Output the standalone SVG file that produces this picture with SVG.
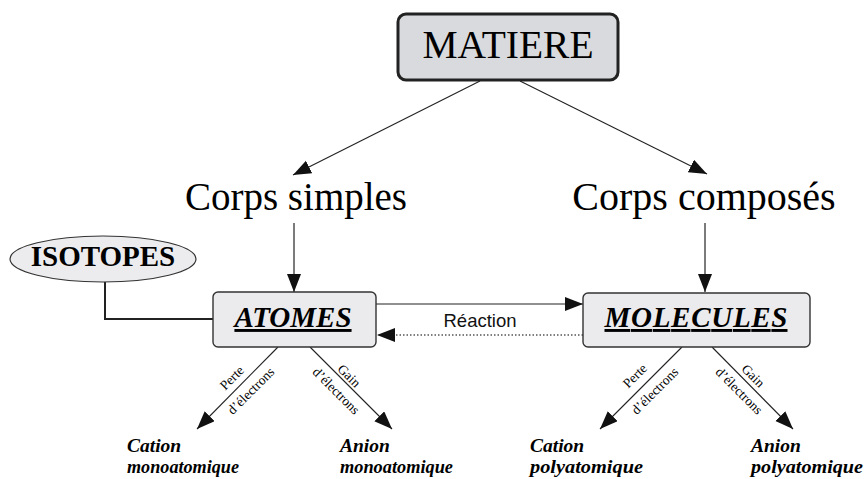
<svg xmlns="http://www.w3.org/2000/svg" width="866" height="479" viewBox="0 0 866 479">
<defs>
<marker id="ah" markerUnits="userSpaceOnUse" markerWidth="19" markerHeight="15" refX="18" refY="7" orient="auto">
<path d="M0,0 L18,7 L0,14 Z" fill="#111"/>
</marker>
<style>
.ln{stroke:#222;stroke-width:1.1;fill:none}
.lnv{stroke:#444;stroke-width:1.4;fill:none}
.box{fill:#ebebed;stroke:#333;stroke-width:1.4}
</style>
</defs>
<rect width="866" height="479" fill="#fff"/>

<g id="connectors">
<line class="ln" x1="480" y1="81" x2="293" y2="175" marker-end="url(#ah)"/>
<line class="ln" x1="520" y1="81" x2="707" y2="174" marker-end="url(#ah)"/>
<line class="lnv" x1="294" y1="223" x2="294" y2="292" marker-end="url(#ah)"/>
<line class="lnv" x1="705" y1="223" x2="705" y2="292" marker-end="url(#ah)"/>
<polyline points="105,282 105,319 213,319" fill="none" stroke="#222" stroke-width="2"/>
<line class="ln" x1="376" y1="304" x2="583" y2="304" marker-end="url(#ah)"/>
<line x1="583" y1="335" x2="377" y2="335" stroke="#555" stroke-width="1.3" stroke-dasharray="1.5,2" marker-end="url(#ah)"/>
<text x="480" y="327" text-anchor="middle" font-family="Liberation Sans, Arial, sans-serif" font-size="18.5" fill="#111">Réaction</text>
<line class="ln" x1="278" y1="347" x2="197" y2="429" marker-end="url(#ah)"/>
<line class="ln" x1="310" y1="347" x2="392" y2="429" marker-end="url(#ah)"/>
<line class="ln" x1="682" y1="347" x2="600" y2="429" marker-end="url(#ah)"/>
<line class="ln" x1="712" y1="347" x2="793" y2="429" marker-end="url(#ah)"/>
<g font-family="Liberation Serif, Times New Roman, serif" font-size="13.5" fill="#000" text-anchor="middle">
<text transform="translate(235,381) rotate(-45)">Perte</text>
<text transform="translate(254,394) rotate(-45)">d’électrons</text>
<text transform="translate(346,379) rotate(45)">Gain</text>
<text transform="translate(333,394) rotate(45)">d’électrons</text>
<text transform="translate(638,379) rotate(-45)">Perte</text>
<text transform="translate(658,394) rotate(-45)">d’électrons</text>
<text transform="translate(750,379) rotate(45)">Gain</text>
<text transform="translate(736,394) rotate(45)">d’électrons</text>
</g>
</g>

<g id="matiere">
<rect x="398" y="14" width="220" height="66" rx="8" fill="#d9dadd" stroke="#222" stroke-width="3"/>
<text x="508" y="58" text-anchor="middle" font-family="Liberation Serif, Times New Roman, serif" font-size="39.5">MATIERE</text>
</g>

<g id="corps-simples">
<text x="296" y="210" text-anchor="middle" font-family="Liberation Serif, Times New Roman, serif" font-size="39">Corps simples</text>
</g>

<g id="corps-composes">
<text x="704" y="210" text-anchor="middle" font-family="Liberation Serif, Times New Roman, serif" font-size="40">Corps composés</text>
</g>

<g id="isotopes">
<ellipse cx="103" cy="259" rx="93" ry="23" fill="#ececee" stroke="#333" stroke-width="1.2"/>
<text x="103" y="266" text-anchor="middle" font-family="Liberation Serif, Times New Roman, serif" font-size="29" font-weight="bold">ISOTOPES</text>
</g>

<g id="atomes">
<rect class="box" x="213" y="292" width="163" height="55" rx="5"/>
<text x="293" y="327" text-anchor="middle" font-family="Liberation Serif, Times New Roman, serif" font-weight="bold" font-style="italic" font-size="29" text-decoration="underline">ATOMES</text>
</g>

<g id="molecules">
<rect class="box" x="583" y="293" width="227" height="54" rx="5"/>
<text x="696" y="327" text-anchor="middle" font-family="Liberation Serif, Times New Roman, serif" font-weight="bold" font-style="italic" font-size="29" textLength="183" text-decoration="underline">MOLECULES</text>
</g>

<g font-family="Liberation Serif, Times New Roman, serif" font-weight="bold" font-style="italic" font-size="19.5" fill="#000">
<g id="cation-mono">
<text x="127" y="452">Cation</text>
<text x="127" y="473" textLength="112" lengthAdjust="spacingAndGlyphs">monoatomique</text>
</g>
<g id="anion-mono">
<text x="340" y="452">Anion</text>
<text x="340" y="473" textLength="113" lengthAdjust="spacingAndGlyphs">monoatomique</text>
</g>
<g id="cation-poly">
<text x="530" y="452">Cation</text>
<text x="530" y="473" textLength="113" lengthAdjust="spacingAndGlyphs">polyatomique</text>
</g>
<g id="anion-poly">
<text x="751" y="452">Anion</text>
<text x="751" y="473" textLength="112" lengthAdjust="spacingAndGlyphs">polyatomique</text>
</g>
</g>
</svg>
